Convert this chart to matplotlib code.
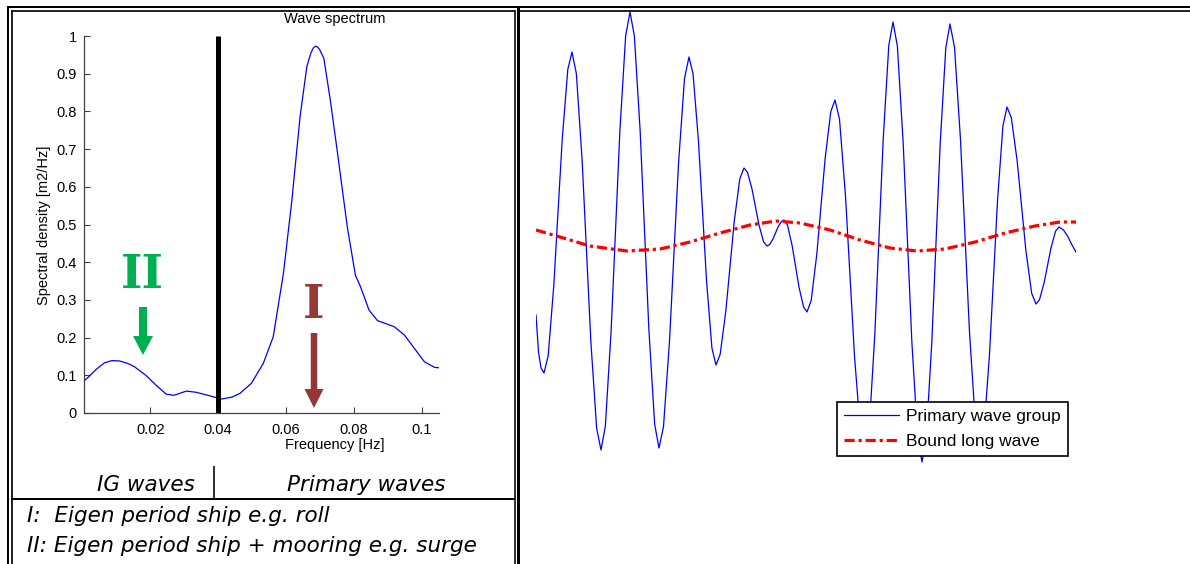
import matplotlib
matplotlib.use("Agg")
import matplotlib.pyplot as plt
from matplotlib.lines import Line2D
from matplotlib.patches import FancyArrow

# figure size in pixels
W, H, DPI = 1190, 564, 100

# wave spectrum (frequency [Hz], spectral density [m2/Hz])
freq = [0.0005, 0.002, 0.004, 0.0065, 0.0087, 0.011, 0.0135, 0.0153, 0.0187,
        0.0217, 0.0247, 0.027, 0.0306, 0.0335, 0.0365, 0.041, 0.044, 0.0464,
        0.0498, 0.0533, 0.0562, 0.0592, 0.0617, 0.0641, 0.0661, 0.0673, 0.068,
        0.0686, 0.0692, 0.0698, 0.0711, 0.073, 0.075, 0.078, 0.0804, 0.0819,
        0.0844, 0.0869, 0.0918, 0.0948, 0.0977, 0.1007, 0.1037, 0.105]
spec = [0.085, 0.097, 0.115, 0.133, 0.139, 0.138, 0.131, 0.123, 0.10,
        0.074, 0.050, 0.047, 0.058, 0.055, 0.048, 0.037, 0.042, 0.052,
        0.079, 0.132, 0.202, 0.37, 0.565, 0.786, 0.919, 0.955, 0.968,
        0.973, 0.971, 0.965, 0.941, 0.830, 0.698, 0.494, 0.365, 0.335,
        0.273, 0.245, 0.229, 0.207, 0.172, 0.136, 0.121, 0.12]
f_split = 0.04
xticks = [0.02, 0.04, 0.06, 0.08, 0.1]
xticklabels = ["0.02", "0.04", "0.06", "0.08", "0.1"]
yticks = [0, 0.1, 0.2, 0.3, 0.4, 0.5, 0.6, 0.7, 0.8, 0.9, 1]
yticklabels = ["0", "0.1", "0.2", "0.3", "0.4", "0.5", "0.6", "0.7", "0.8", "0.9", "1"]

# primary wave group (time [s], elevation [m])
t_group = [0, 0.5, 1.0, 1.6,
           2.44, 3.56, 4.4, 5.24, 6.36, 7.2,
           8.07, 9.23, 10.1, 10.97, 12.13, 13.0,
           13.87, 15.03, 15.9, 16.77, 17.93, 18.8,
           19.67, 20.83, 21.7, 22.57, 23.73, 24.6,
           25.5, 26.7, 27.6, 28.5, 29.7, 30.6,
           31.41, 32.49, 33.3, 34.11, 35.19, 36.0,
           36.84, 37.96, 38.8, 39.64, 40.76, 41.6,
           42.29, 43.21, 43.9, 44.59, 45.51, 46.2,
           46.71, 47.39, 47.9, 48.41, 49.09, 49.6,
           50.29, 51.21, 51.9, 52.59, 53.51, 54.2,
           55.04, 56.16, 57.0, 57.84, 58.96, 59.8,
           60.7, 61.9, 62.8, 63.7, 64.9, 65.8,
           66.64, 67.76, 68.6, 69.44, 70.56, 71.4,
           72.27, 73.43, 74.3, 75.17, 76.33, 77.2,
           78.04, 79.16, 80.0, 80.84, 81.96, 82.8,
           83.7, 84.9, 85.8, 86.7, 87.9, 88.8,
           89.61, 90.69, 91.5, 92.31, 93.39, 94.2,
           95.07, 96.23, 97.1, 97.97, 99.13, 100.0,
           100.69, 101.61, 102.3, 102.99, 103.91, 104.6,
           105.5, 106.3, 107.2, 108.0]
eta_group = [-0.395, -0.58, -0.66, -0.685,
             -0.598, -0.247, 0.118, 0.482, 0.833, 0.92,
             0.812, 0.377, -0.075, -0.527, -0.962, -1.07,
             -0.951, -0.472, 0.025, 0.522, 1.001, 1.12,
             1.001, 0.525, 0.03, -0.465, -0.941, -1.06,
             -0.953, -0.526, -0.083, 0.361, 0.788, 0.895,
             0.811, 0.475, 0.125, -0.225, -0.561, -0.645,
             -0.591, -0.376, -0.153, 0.071, 0.286, 0.34,
             0.319, 0.234, 0.145, 0.056, -0.029, -0.05,
             -0.043, -0.015, 0.015, 0.045, 0.073, 0.08,
             0.055, -0.046, -0.15, -0.254, -0.355, -0.38,
             -0.322, -0.091, 0.15, 0.391, 0.622, 0.68,
             0.584, 0.2, -0.2, -0.6, -0.984, -1.08,
             -0.963, -0.493, -0.005, 0.483, 0.953, 1.07,
             0.95, 0.469, -0.03, -0.529, -1.01, -1.13,
             -1.011, -0.532, -0.035, 0.462, 0.941, 1.06,
             0.944, 0.481, 0.0, -0.481, -0.944, -1.06,
             -0.967, -0.595, -0.208, 0.18, 0.552, 0.645,
             0.591, 0.376, 0.153, -0.071, -0.286, -0.34,
             -0.319, -0.235, -0.148, -0.06, 0.024, 0.045,
             0.03, 0.0, -0.045, -0.08]

# bound long wave
t_bound = [0, 4.8, 10.8, 18.2, 24.8, 30.8, 36.8, 42.8, 48.0, 52.8, 58.8, 64.8,
           70.8, 76.2, 81.8, 87.8, 93.8, 99.8, 104.8, 108.0]
eta_bound = [0.03, -0.005, -0.05, -0.075, -0.065, -0.03, 0.015, 0.055, 0.075,
             0.065, 0.03, -0.02, -0.06, -0.075, -0.065, -0.03, 0.015, 0.05,
             0.07, 0.07]

legend_labels = ["Primary wave group", "Bound long wave"]
notes = ["I:  Eigen period ship e.g. roll",
         "II: Eigen period ship + mooring e.g. surge"]

SANS = "Liberation Sans"
VERD = "DejaVu Sans"


def px(x, y):
    # pixel (from top left) -> inches for dpi_scale_trans
    return x / DPI, (H - y) / DPI


fig = plt.figure(figsize=(W / DPI, H / DPI), dpi=DPI)
fig.patch.set_facecolor("white")
tr = fig.dpi_scale_trans


def hline(y, x1, x2, w):
    a, b = px(x1, y)
    c, d = px(x2, y)
    fig.add_artist(Line2D([a, c], [b, d], transform=tr, color="black", lw=w * 0.72,
                          solid_capstyle="butt"))


def vline(x, y1, y2, w):
    a, b = px(x, y1)
    c, d = px(x, y2)
    fig.add_artist(Line2D([a, c], [b, d], transform=tr, color="black", lw=w * 0.72,
                          solid_capstyle="butt"))


# table borders
hline(6.7, 7, W, 2)
hline(10.5, 11, 515, 1.7)
hline(10.5, 517, W, 1.7)
vline(8.2, 5.7, H, 2)
vline(12.2, 9.6, H, 1.7)
vline(514.8, 9.6, H, 1.6)
vline(518.2, 5.7, H, 3)
hline(499, 11, 515, 2)
vline(213.6, 466, 499, 1.6)

# ---- left: spectrum
ax = fig.add_axes([84 / W, (H - 413) / H, 355 / W, 377 / H])
ax.plot(freq, spec, color="#0000ff", lw=0.9)
ax.plot([f_split, f_split], [0, 1], color="black", lw=3.6, solid_capstyle="butt")
ax.set_xlim(0.0005, 0.105)
ax.set_ylim(0, 1)
ax.set_xticks(xticks)
ax.set_xticklabels(xticklabels)
ax.set_yticks(yticks)
ax.set_yticklabels(yticklabels)
for s in ["top", "right"]:
    ax.spines[s].set_visible(False)
for s in ["left", "bottom"]:
    ax.spines[s].set_color("0.25")
    ax.spines[s].set_linewidth(0.9)
ax.tick_params(direction="in", length=4, width=0.8, color="0.25", labelsize=10.5,
               pad=5)
ax.tick_params(axis="x", pad=7)
for lab in ax.get_xticklabels() + ax.get_yticklabels():
    lab.set_family(SANS)
ax.patch.set_alpha(0)

fig.text(*px(335, 19), "Wave spectrum", transform=tr, ha="center", va="center",
         family=SANS, fontsize=10.5)
fig.text(*px(335, 445), "Frequency [Hz]", transform=tr, ha="center", va="center",
         family=SANS, fontsize=10.5)
fig.text(*px(44, 225), "Spectral density [m2/Hz]", transform=tr, ha="center",
         va="center", rotation=90, family=SANS, fontsize=10.5)

# eigen period markers
green = "#00b050"
dred = "#953735"
fig.text(*px(142.5, 288), "II", transform=tr, ha="center", va="baseline",
         family="DejaVu Serif", fontweight="bold", fontsize=33, color=green)
fig.text(*px(313.5, 318), "I", transform=tr, ha="center", va="baseline",
         family="DejaVu Serif", fontweight="bold", fontsize=33, color=dred)
x0, y0 = px(143, 307)
fig.add_artist(FancyArrow(x0, y0, 0, -0.48, width=0.08, head_width=0.20,
                          head_length=0.19, length_includes_head=True,
                          transform=tr, color=green, lw=0))
x0, y0 = px(314, 333)
fig.add_artist(FancyArrow(x0, y0, 0, -0.75, width=0.065, head_width=0.19,
                          head_length=0.19, length_includes_head=True,
                          transform=tr, color=dred, lw=0))

# bottom cells
fig.text(*px(146, 491), "IG waves", transform=tr, ha="center", va="baseline",
         family=VERD, style="italic", fontsize=15.5)
fig.text(*px(366.5, 491), "Primary waves", transform=tr, ha="center",
         va="baseline", family=VERD, style="italic", fontsize=15.5)
fig.text(*px(27, 522), notes[0], transform=tr, ha="left", va="baseline",
         family=VERD, style="italic", fontsize=15.5)
fig.text(*px(27, 552), notes[1], transform=tr, ha="left", va="baseline",
         family=VERD, style="italic", fontsize=15.5)

# ---- right: wave group
ax2 = fig.add_axes([536 / W, (H - 476) / H, 540 / W, 470 / H])
ax2.plot(t_group, eta_group, color="#0000ff", lw=0.9, label=legend_labels[0])
ax2.plot(t_bound, eta_bound, color="#ff0000", lw=2.3,
         linestyle=(0, (3.2, 1.2, 1.0, 1.2)), label=legend_labels[1])
ax2.set_xlim(0, 108)
ax2.set_ylim(-1.2, 1.15)
ax2.axis("off")
leg = ax2.legend(loc="upper left", bbox_to_anchor=px(837, 402), bbox_transform=tr,
                 borderaxespad=0, fancybox=False, framealpha=1, edgecolor="black",
                 prop={"family": SANS, "size": 12.5}, handlelength=3.2,
                 handletextpad=0.4, borderpad=0.4, labelspacing=0.55)
leg.get_frame().set_linewidth(1.2)

fig.savefig("out.png", dpi=DPI, facecolor="white")
